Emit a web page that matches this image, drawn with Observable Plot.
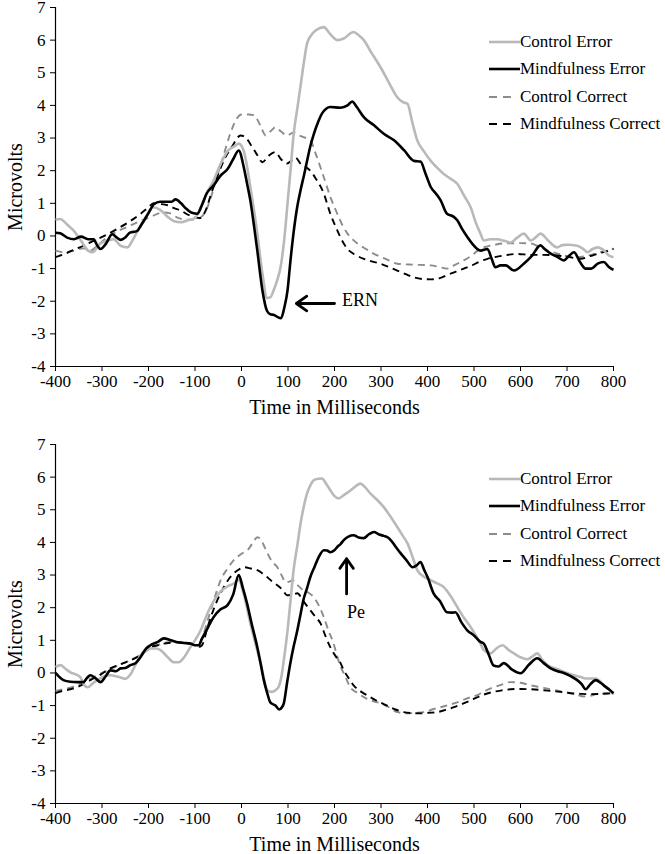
<!DOCTYPE html>
<html><head><meta charset="utf-8">
<script src="https://cdn.jsdelivr.net/npm/d3@7"></script>
<script src="https://cdn.jsdelivr.net/npm/@observablehq/plot@0.6"></script>
<style>
body{margin:0;background:#fff;}
#root{position:relative;width:665px;height:854px;font-family:"Liberation Serif","Times New Roman",serif;}
.panel{position:relative;width:665px;}
.legend{position:absolute;left:489px;}
.item{display:flex;align-items:center;height:27.4px;font-size:17px;color:#000;white-space:nowrap;}
.item svg{display:block;}
</style></head><body><div id="root"></div>
<script>
// ---- axis ticks ----
const xTicks = [-400,-300,-200,-100,0,100,200,300,400,500,600,700,800];
const yTicks = [-4,-3,-2,-1,0,1,2,3,4,5,6,7];
const seriesNames = ["Control Error","Mindfulness Error","Control Correct","Mindfulness Correct"];

// ---- panel 1 data [ms, microvolts] ----
const p1ControlError = [[-400,0.5],[-390,0.52],[-375,0.35],[-360,0.15],[-345,-0.15],[-330,-0.45],[-320,-0.5],[-305,-0.25],[-290,-0.15],[-275,-0.1],[-260,-0.3],[-245,-0.35],[-235,-0.15],[-220,0.25],[-205,0.6],[-190,0.88],[-175,0.8],[-160,0.6],[-145,0.45],[-130,0.42],[-115,0.48],[-100,0.55],[-90,0.8],[-75,1.3],[-60,1.7],[-45,2.2],[-30,2.6],[-15,2.75],[-6,2.83],[5,2.6],[19,1.5],[34,0.07],[45,-1.16],[55,-1.9],[62,-1.88],[69,-1.67],[78,-1.3],[84,-0.96],[92,-0.1],[99,1.0],[106,2.1],[112,3.1],[120,3.9],[127,4.6],[134,5.3],[141,5.9],[150,6.15],[160,6.3],[177,6.4],[190,6.2],[206,6.0],[220,6.05],[241,6.25],[252,6.15],[263,6.0],[280,5.6],[299,5.17],[317,4.7],[335,4.25],[347,4.1],[357,4.05],[367,3.5],[378,2.93],[392,2.6],[407,2.3],[420,2.1],[435,1.9],[450,1.75],[464,1.6],[478,1.25],[493,0.87],[504,0.4],[514,0.07],[521,-0.14],[535,-0.1],[550,-0.1],[565,-0.15],[579,-0.2],[593,-0.05],[607,0.07],[622,-0.14],[632,-0.05],[643,0.07],[660,-0.15],[679,-0.35],[690,-0.28],[701,-0.27],[722,-0.3],[735,-0.4],[744,-0.5],[755,-0.4],[766,-0.35],[780,-0.45],[790,-0.6],[800,-0.65]];
const p1MindfulnessError = [[-400,0.1],[-390,0.08],[-375,-0.05],[-360,-0.1],[-345,-0.02],[-330,-0.1],[-318,-0.1],[-310,-0.3],[-303,-0.4],[-292,-0.25],[-278,0.05],[-268,-0.05],[-260,-0.12],[-250,-0.05],[-240,0.1],[-225,0.15],[-215,0.35],[-200,0.7],[-188,0.98],[-175,1.05],[-160,1.05],[-150,1.05],[-142,1.12],[-130,1.0],[-120,0.85],[-105,0.7],[-95,0.68],[-85,0.95],[-75,1.3],[-60,1.55],[-45,1.85],[-30,2.05],[-18,2.35],[-6,2.62],[5,2.1],[12,1.6],[19,1.09],[27,0.3],[34,-0.45],[45,-1.67],[55,-2.3],[62,-2.4],[70,-2.42],[77,-2.48],[85,-2.52],[92,-2.2],[99,-1.67],[105,-0.8],[112,0.1],[120,0.9],[127,1.4],[135,1.9],[141,2.3],[148,2.75],[155,3.1],[165,3.5],[173,3.75],[182,3.9],[191,3.95],[213,3.93],[228,4.0],[238,4.12],[248,3.95],[263,3.64],[285,3.39],[306,3.13],[328,2.93],[350,2.62],[371,2.3],[385,2.28],[396,1.9],[407,1.5],[418,1.3],[428,1.1],[442,0.68],[455,0.6],[464,0.48],[475,0.2],[486,-0.04],[497,-0.25],[507,-0.4],[514,-0.45],[529,-0.4],[538,-0.7],[546,-0.96],[557,-0.9],[568,-0.9],[586,-1.06],[607,-0.85],[625,-0.6],[643,-0.29],[652,-0.4],[665,-0.54],[680,-0.65],[693,-0.75],[705,-0.6],[715,-0.5],[728,-0.8],[740,-1.0],[752,-1.0],[766,-0.85],[779,-0.8],[790,-0.95],[800,-1.04]];
const p1ControlCorrect = [[-400,-0.45],[-380,-0.5],[-360,-0.45],[-340,-0.38],[-325,-0.45],[-310,-0.3],[-290,-0.05],[-270,0.12],[-250,0.25],[-230,0.38],[-210,0.5],[-190,0.62],[-170,0.72],[-155,0.7],[-140,0.58],[-120,0.5],[-100,0.5],[-85,0.6],[-70,1.0],[-55,1.7],[-40,2.4],[-25,3.1],[-10,3.6],[0,3.72],[15,3.72],[27,3.7],[40,3.4],[52,3.08],[62,3.2],[73,3.33],[85,3.2],[98,3.08],[112,3.17],[120,3.1],[133,3.03],[148,2.93],[160,2.5],[177,1.8],[191,1.2],[206,0.68],[218,0.3],[228,0.07],[240,-0.12],[250,-0.24],[270,-0.42],[285,-0.55],[310,-0.7],[335,-0.85],[370,-0.88],[407,-0.9],[425,-0.95],[442,-1.0],[460,-0.88],[478,-0.75],[495,-0.6],[514,-0.39],[529,-0.32],[545,-0.27],[564,-0.23],[600,-0.22],[622,-0.23],[640,-0.33],[658,-0.45],[675,-0.52],[693,-0.6],[722,-0.65],[745,-0.6],[766,-0.52],[785,-0.45],[800,-0.4]];
const p1MindfulnessCorrect = [[-400,-0.65],[-380,-0.55],[-360,-0.42],[-340,-0.3],[-318,-0.15],[-295,0.0],[-267,0.22],[-240,0.45],[-217,0.68],[-200,0.88],[-189,1.0],[-175,0.98],[-159,0.94],[-145,0.85],[-131,0.78],[-115,0.65],[-100,0.56],[-88,0.55],[-78,0.75],[-65,1.3],[-50,1.9],[-35,2.4],[-20,2.75],[-2,3.08],[10,3.0],[22,2.75],[33,2.5],[45,2.26],[58,2.45],[73,2.57],[85,2.35],[98,2.22],[107,2.3],[116,2.4],[128,2.2],[140,2.1],[148,2.0],[160,1.75],[177,1.3],[191,0.68],[206,0.17],[213,-0.05],[228,-0.4],[245,-0.58],[263,-0.7],[280,-0.78],[299,-0.85],[317,-0.95],[335,-1.06],[353,-1.17],[371,-1.27],[390,-1.32],[407,-1.33],[425,-1.3],[442,-1.2],[460,-1.1],[478,-1.0],[493,-0.92],[510,-0.8],[529,-0.7],[545,-0.65],[564,-0.6],[593,-0.55],[622,-0.58],[650,-0.58],[679,-0.6],[705,-0.65],[729,-0.7],[750,-0.62],[770,-0.53],[785,-0.47],[800,-0.39]];

// ---- panel 2 data [ms, microvolts] ----
const p2ControlError = [[-400,0.18],[-389,0.24],[-378,0.12],[-368,0.02],[-355,-0.05],[-346,-0.14],[-338,-0.38],[-331,-0.44],[-320,-0.32],[-310,-0.22],[-295,-0.1],[-282,-0.07],[-270,-0.1],[-260,-0.14],[-250,-0.18],[-239,-0.05],[-228,0.25],[-217,0.54],[-205,0.7],[-196,0.75],[-185,0.75],[-174,0.7],[-160,0.5],[-146,0.33],[-135,0.33],[-125,0.45],[-110,0.79],[-100,1.0],[-88,1.3],[-73,1.83],[-60,2.2],[-45,2.5],[-30,2.65],[-17,2.74],[-6,2.85],[5,2.4],[19,1.52],[30,0.9],[41,0.3],[48,-0.15],[55,-0.53],[65,-0.58],[73,-0.53],[80,-0.42],[86,-0.1],[92,0.5],[99,1.3],[106,2.3],[112,3.15],[120,3.9],[127,4.58],[134,5.1],[141,5.5],[148,5.75],[155,5.9],[165,5.95],[173,5.96],[182,5.8],[191,5.6],[200,5.42],[209,5.35],[220,5.45],[235,5.6],[248,5.75],[256,5.8],[265,5.7],[277,5.5],[292,5.3],[306,5.08],[320,4.8],[335,4.47],[347,4.2],[357,3.97],[368,3.55],[378,3.15],[392,2.95],[407,2.84],[420,2.75],[435,2.63],[450,2.35],[464,2.02],[478,1.7],[493,1.4],[504,1.15],[514,0.9],[521,0.7],[536,0.6],[548,0.75],[561,0.85],[575,0.7],[586,0.6],[600,0.48],[615,0.42],[625,0.5],[636,0.6],[647,0.4],[658,0.24],[672,0.15],[686,0.08],[700,0.0],[715,-0.07],[728,-0.12],[740,-0.17],[752,-0.17],[762,-0.17],[771,-0.25],[779,-0.38],[790,-0.5],[800,-0.66]];
const p2MindfulnessError = [[-400,0.0],[-392,-0.12],[-383,-0.22],[-368,-0.27],[-353,-0.28],[-340,-0.28],[-332,-0.15],[-325,-0.07],[-315,-0.15],[-303,-0.28],[-292,-0.1],[-282,0.08],[-270,0.05],[-260,0.14],[-250,0.15],[-239,0.24],[-228,0.3],[-217,0.49],[-205,0.75],[-196,0.85],[-180,0.95],[-167,1.06],[-152,1.0],[-138,0.94],[-124,0.92],[-110,0.9],[-100,0.85],[-92,0.85],[-85,1.05],[-72,1.4],[-60,1.71],[-45,1.95],[-30,2.08],[-18,2.4],[-6,3.0],[3,2.6],[12,2.13],[22,1.5],[34,0.79],[41,0.3],[48,-0.22],[55,-0.6],[62,-0.9],[73,-1.0],[81,-1.12],[87,-1.05],[91,-0.93],[98,-0.3],[105,0.3],[112,0.8],[120,1.3],[127,1.8],[133,2.23],[141,2.6],[148,2.94],[157,3.25],[166,3.55],[177,3.76],[184,3.75],[191,3.7],[199,3.75],[206,3.86],[213,3.95],[220,4.07],[230,4.18],[241,4.22],[252,4.15],[263,4.13],[274,4.25],[285,4.32],[295,4.25],[306,4.2],[317,4.13],[330,3.9],[342,3.67],[355,3.45],[368,3.24],[377,3.3],[385,3.4],[393,3.15],[400,2.94],[413,2.44],[427,2.2],[442,1.86],[452,1.85],[460,1.86],[473,1.55],[486,1.3],[500,1.15],[514,0.95],[521,0.9],[532,0.55],[542,0.23],[553,0.2],[564,0.3],[582,0.1],[600,-0.01],[618,0.25],[636,0.45],[650,0.3],[665,0.14],[680,0.05],[693,0.0],[708,-0.1],[722,-0.22],[732,-0.35],[740,-0.5],[750,-0.35],[762,-0.22],[772,-0.3],[779,-0.38],[790,-0.5],[800,-0.62]];
const p2ControlCorrect = [[-400,-0.55],[-385,-0.5],[-368,-0.45],[-350,-0.35],[-325,-0.18],[-300,0.0],[-282,0.12],[-254,0.3],[-224,0.5],[-196,0.75],[-180,0.85],[-167,0.92],[-150,0.95],[-138,0.95],[-124,0.93],[-110,0.9],[-95,0.85],[-85,1.05],[-73,1.6],[-60,2.2],[-45,2.84],[-30,3.2],[-17,3.45],[0,3.65],[13,3.76],[25,4.0],[34,4.16],[41,4.1],[50,3.85],[62,3.5],[70,3.35],[77,3.24],[86,3.0],[95,2.78],[103,2.8],[110,2.84],[120,2.7],[133,2.53],[145,2.45],[155,2.33],[165,2.1],[177,1.71],[187,1.3],[198,0.9],[206,0.5],[213,0.2],[223,-0.1],[234,-0.44],[248,-0.6],[263,-0.74],[280,-0.85],[299,-0.93],[317,-1.05],[335,-1.2],[357,-1.24],[375,-1.22],[392,-1.2],[410,-1.12],[428,-1.05],[446,-0.98],[464,-0.9],[485,-0.78],[507,-0.68],[520,-0.58],[536,-0.47],[555,-0.38],[579,-0.28],[600,-0.3],[622,-0.38],[643,-0.44],[665,-0.5],[685,-0.56],[708,-0.62],[722,-0.67],[736,-0.72],[750,-0.7],[764,-0.65],[780,-0.63],[800,-0.62]];
const p2MindfulnessCorrect = [[-400,-0.62],[-385,-0.55],[-368,-0.5],[-345,-0.38],[-325,-0.22],[-303,-0.05],[-282,0.14],[-254,0.3],[-224,0.49],[-196,0.79],[-180,0.85],[-167,0.9],[-150,0.93],[-138,0.94],[-124,0.92],[-110,0.9],[-92,0.8],[-85,0.85],[-73,1.4],[-60,1.95],[-45,2.44],[-24,2.94],[-2,3.2],[4,3.24],[20,3.2],[34,3.15],[45,3.05],[55,2.94],[66,2.8],[77,2.69],[88,2.55],[98,2.38],[110,2.4],[120,2.44],[133,2.2],[148,1.92],[160,1.7],[170,1.52],[180,1.15],[191,0.79],[203,0.5],[213,0.3],[220,0.08],[230,-0.15],[241,-0.38],[258,-0.58],[277,-0.74],[295,-0.88],[313,-1.0],[331,-1.12],[349,-1.2],[367,-1.23],[385,-1.24],[403,-1.22],[421,-1.2],[439,-1.13],[457,-1.05],[475,-0.95],[493,-0.84],[514,-0.7],[536,-0.6],[557,-0.54],[579,-0.5],[600,-0.49],[622,-0.5],[643,-0.52],[665,-0.55],[686,-0.58],[708,-0.62],[730,-0.64],[750,-0.65],[775,-0.64],[800,-0.62]];

// ---- annotations (data coordinates) ----
const p1Arrow = [{x1:200, y1:-2.07, x2:118, y2:-2.07}];
const p1Label = [{x:216, y:-1.98, text:"ERN"}];
const p2Arrow = [{x1:226, y1:2.42, x2:226, y2:3.5}];
const p2Label = [{x:227, y:1.86, text:"Pe"}];

// ---- styles ----
const styles = {
  "Control Error":       {stroke:"#b9b9b9", strokeWidth:2.6, dash:null},
  "Mindfulness Error":   {stroke:"#000000", strokeWidth:2.6, dash:null},
  "Control Correct":     {stroke:"#8c8c8c", strokeWidth:1.9, dash:"7,5"},
  "Mindfulness Correct": {stroke:"#000000", strokeWidth:1.9, dash:"7,5"}
};
const drawOrder = ["Control Correct","Mindfulness Correct","Control Error","Mindfulness Error"];
const font = "'Liberation Serif','Times New Roman',serif";

function toRows(pairs){ return pairs.map(([t,v]) => ({t, v})); }

function makePanel(seriesData, arrows, labels, height, marginTop, marginBottom){
  const wrap = document.createElement("div");
  wrap.className = "panel";
  wrap.style.height = height + "px";
  const marks = [];
  marks.push(Plot.axisY({ticks:yTicks, tickSize:5, tickPadding:5, tickFormat:d => String(d), label:null, fontSize:17}));
  marks.push(Plot.axisX({ticks:xTicks, tickSize:5, tickPadding:3, tickFormat:d => String(d), label:null, fontSize:17}));
  marks.push(Plot.ruleX([-400], {y1:-4, y2:7, stroke:"#000", strokeWidth:1.2}));
  marks.push(Plot.ruleY([-4], {x1:-400, x2:800, stroke:"#000", strokeWidth:1.2}));
  for (const name of drawOrder){
    const s = styles[name];
    marks.push(Plot.line(toRows(seriesData[name]), {x:"t", y:"v", stroke:s.stroke, strokeWidth:s.strokeWidth, strokeDasharray:s.dash, curve:"monotone-x", strokeLinejoin:"round", strokeLinecap:"butt"}));
  }
  marks.push(Plot.arrow(arrows, {x1:"x1", y1:"y1", x2:"x2", y2:"y2", stroke:"#000", strokeWidth:2.8, headLength:11, headAngle:70}));
  marks.push(Plot.text(labels, {x:"x", y:"y", text:"text", textAnchor:"start", fontSize:18, fill:"#000"}));
  marks.push(Plot.text(["Microvolts"], {frameAnchor:"left", dx:-40, rotate:-90, fontSize:20, textAnchor:"middle", lineAnchor:"middle", fill:"#000"}));
  marks.push(Plot.text(["Time in Milliseconds"], {frameAnchor:"bottom", dy:41, fontSize:20, lineAnchor:"middle", fill:"#000"}));
  const chart = Plot.plot({
    width:665, height, marginLeft:55, marginRight:52, marginTop, marginBottom,
    x:{domain:[-400,800]}, y:{domain:[-4,7]},
    style:{fontFamily:font, fontSize:"17px", color:"#000", background:"#fff", overflow:"visible"},
    marks
  });
  wrap.appendChild(chart);

  const legend = document.createElement("div");
  legend.className = "legend";
  legend.style.top = (marginTop + 35 - 13.7) + "px";
  for (const name of seriesNames){
    const s = styles[name];
    const item = document.createElement("div");
    item.className = "item";
    const svgNS = "http://www.w3.org/2000/svg";
    const svg = document.createElementNS(svgNS, "svg");
    svg.setAttribute("width", "31"); svg.setAttribute("height", "12");
    const ln = document.createElementNS(svgNS, "line");
    ln.setAttribute("x1", "0"); ln.setAttribute("x2", s.dash ? "25" : "31");
    ln.setAttribute("y1", "6"); ln.setAttribute("y2", "6");
    ln.setAttribute("stroke", s.stroke); ln.setAttribute("stroke-width", s.strokeWidth);
    if (s.dash) ln.setAttribute("stroke-dasharray", "8,6");
    svg.appendChild(ln);
    const txt = document.createElement("span");
    txt.textContent = name;
    item.appendChild(svg); item.appendChild(txt);
    legend.appendChild(item);
  }
  wrap.appendChild(legend);
  return wrap;
}

const root = document.getElementById("root");
root.appendChild(makePanel({
  "Control Error": p1ControlError, "Mindfulness Error": p1MindfulnessError,
  "Control Correct": p1ControlCorrect, "Mindfulness Correct": p1MindfulnessCorrect
}, p1Arrow, p1Label, 420, 7, 54));
root.appendChild(makePanel({
  "Control Error": p2ControlError, "Mindfulness Error": p2MindfulnessError,
  "Control Correct": p2ControlCorrect, "Mindfulness Correct": p2MindfulnessCorrect
}, p2Arrow, p2Label, 434, 24, 51));
</script></body></html>
